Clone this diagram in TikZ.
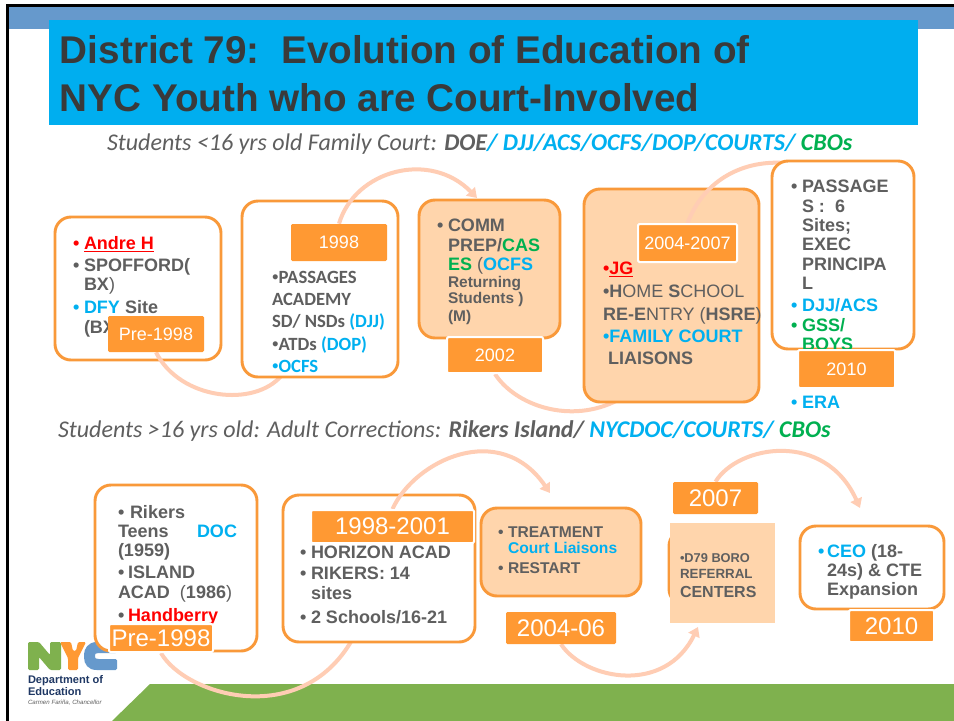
\documentclass[tikz,border=0pt]{standalone}
\usepackage{fontspec}
\setmainfont{Liberation Sans}
\newfontfamily\cali{Carlito}
\newfontfamily\ari{Liberation Sans}
\usetikzlibrary{arrows.meta,calc,shapes.misc}
\definecolor{org}{HTML}{FF9933}
\definecolor{orgline}{HTML}{F9993A}
\definecolor{pale}{HTML}{FFD5AC}
\definecolor{arcc}{HTML}{FFCDB4}
\definecolor{gry}{HTML}{5F5F5F}
\definecolor{titlec}{HTML}{3A3A3A}
\definecolor{blu}{HTML}{00B0F0}
\definecolor{grn}{HTML}{00B050}
\definecolor{redd}{HTML}{FF0000}
\definecolor{cyanbar}{HTML}{00AEEF}
\definecolor{topbar}{HTML}{6699CC}
\definecolor{foot}{HTML}{7FB14E}
\definecolor{navy}{HTML}{1F3864}
\pgfdeclarelayer{base}
\pgfdeclarelayer{top}
\pgfsetlayers{base,main,top}
\newcount\tlc
% text line: {x}{y}{text}
\newcommand{\tl}[3]{\global\advance\tlc by 1 \node[tline] (t\the\tlc) at (#1,#2) {#3};}
% bullet line: {x}{y}{indent px}{colour}{text}
\newcommand{\bl}[5]{\global\advance\tlc by 1 \node[tline] (t\the\tlc) at (#1,#2) {\makebox[\dimexpr #3pt*3/4\relax][l]{\textcolor{#4}{•}}#5};}
% box: {style}{name}{x1}{y1}{x2}{y2}{text}
\newcommand{\bx}[7]{%
 \pgfmathsetmacro{\bw}{(#5-#3)*0.75}\pgfmathsetmacro{\bh}{(#6-#4)*0.75}%
 \node[#1,minimum width=\bw pt,minimum height=\bh pt] (#2) at ({(#3+#5)/2},{(#4+#6)/2}) {#7};}
\newcommand{\ul}[1]{\underline{#1}}
\newcommand{\smbul}{{\ari\mdseries •}}
\tikzset{
 x=0.75pt,y=-0.75pt,
 tline/.style={anchor=base west,inner sep=0pt,outer sep=0pt,text=gry,font=\fontsize{13.5pt}{16pt}\selectfont\bfseries},
 card/.style={draw=orgline,line width=2.2pt,fill=white,rounded corners=12pt,inner sep=0pt},
 cardp/.style={card,fill=pale},
 tag/.style={fill=org,text=white,inner sep=0pt,rounded corners=1pt,font=\fontsize{13.5pt}{16pt}\selectfont},
 tagw/.style={tag,draw=white,line width=1.5pt},
 taglg/.style={tag,font=\fontsize{18pt}{20pt}\selectfont},
 taglgw/.style={tagw,font=\fontsize{18pt}{20pt}\selectfont},
 flow/.style={draw=arcc,line width=3pt},
 flowa/.style={flow,-{Triangle[length=7pt,width=9pt]}},
}
\begin{document}
\begin{tikzpicture}
\useasboundingbox (0,0) rectangle (954,721);
\begin{pgfonlayer}{base}
\fill[white] (0,0) rectangle (954,721);
\fill[topbar] (8,6) rectangle (954,29);
\fill[black] (6,4) rectangle (954,7);
\fill[black] (6,4) rectangle (9,721);
\fill[foot] (150,684) -- (954,684) -- (954,721) -- (112,721) -- cycle;
% logo
\fill[foot,rounded corners=1pt] (28,642) -- (39,642) -- (50,655) -- (50,642) -- (61,642) -- (61,670) -- (50,670) -- (39,657) -- (39,670) -- (28,670) -- cycle;
\fill[org,rounded corners=1pt] (60,642) -- (71,642) -- (73,651) -- (76,651) -- (78,642) -- (86,642) -- (78,658) -- (78,670) -- (68,670) -- (68,658) -- cycle;
\fill[topbar,rounded corners=1pt] (117,642) -- (98,642) .. controls (88,642) and (84,649) .. (84,656) .. controls (84,664) and (88,670) .. (98,670) -- (117,670) -- (117,659) -- (100,659) .. controls (96,659) and (95,658) .. (95,656) .. controls (95,654) and (96,653) .. (100,653) -- (117,653) -- cycle;
\node[tline,text=navy,font=\fontsize{8.3pt}{9pt}\selectfont\bfseries] (lg1) at (28,683) {Department of};
\node[tline,text=navy,font=\fontsize{8.3pt}{9pt}\selectfont\bfseries] (lg2) at (28,695) {Education};
\node[tline,text=gry,font=\fontsize{4.6pt}{5pt}\selectfont\itshape\mdseries] (lg3) at (28,704) {Carmen Fariña, Chancellor};
\end{pgfonlayer}
% title
\node[fill=cyanbar,minimum width=651.75pt,minimum height=78.75pt,inner sep=0pt] (titlebar) at (483.5,72.5) {};
\node[tline,text=titlec,font=\fontsize{29pt}{34pt}\selectfont\bfseries] (title1) at (60,63) {District 79:\ \ Evolution of Education of};
\node[tline,text=titlec,font=\fontsize{29pt}{34pt}\selectfont\bfseries] (title2) at (60,111) {NYC Youth who are Court-Involved};
\node[tline,font=\cali\fontsize{18pt}{20pt}\selectfont\itshape\mdseries] (sub1) at (107,150) {Students <16 yrs old Family Court: \textbf{DOE}\textcolor{blu}{\textbf{/ DJJ/ACS/OCFS/DOP/COURTS/ }}\textcolor{grn}{\textbf{CBOs}}};
\node[tline,font=\cali\fontsize{18pt}{20pt}\selectfont\itshape\mdseries] (sub2) at (58,437) {Students >16 yrs old: Adult Corrections: \textbf{Rikers Island/ }\textcolor{blu}{\textbf{NYCDOC/COURTS/ }}\textcolor{grn}{\textbf{CBOs}}};

\begin{pgfonlayer}{top}
% upper row text
\bl{73}{249}{11}{redd}{\textcolor{redd}{\ul{Andre H}}}
\bl{73}{271}{11}{gry}{SPOFFORD(}
\tl{84}{290}{BX\mdseries)}
\bl{73}{313}{11}{blu}{\textcolor{blu}{DFY} Site}
\tl{84}{333}{(BX)}
\begin{scope}[tline/.append style={font=\cali\fontsize{14pt}{16pt}\selectfont\bfseries}]
\tl{272}{283}{\smbul PASSAGES}
\tl{272}{305}{ACADEMY}
\tl{272}{327}{SD/ NSDs \textcolor{blu}{(DJJ)}}
\tl{272}{350}{\smbul ATDs \textcolor{blu}{(DOP)}}
\tl{272}{372}{\textcolor{blu}{\smbul OCFS}}
\end{scope}
\bl{437}{231}{11}{gry}{COMM}
\tl{448}{251}{PREP/\textcolor{grn}{CAS}}
\tl{448}{270}{\textcolor{grn}{ES} \mdseries(\textcolor{blu}{\bfseries OCFS}}
\begin{scope}[tline/.append style={font=\fontsize{11.6pt}{14pt}\selectfont\bfseries}]
\tl{448}{287}{Returning}
\tl{448}{303}{Students )}
\tl{448}{321}{(M)}
\end{scope}
\tl{603}{274}{\textcolor{redd}{•\ul{JG}}}
\tl{603}{297}{•H\mdseries OME \bfseries S\mdseries CHOOL}
\tl{603}{320}{RE-E\mdseries NTRY (\bfseries HSRE\mdseries )}
\tl{603}{342}{\textcolor{blu}{•FAMILY COURT}}
\tl{608}{364}{LIAISONS}
\bl{791}{192}{11}{gry}{PASSAGE}
\tl{802}{212}{S :\ \ 6}
\tl{802}{231}{Sites;}
\tl{802}{250}{EXEC}
\tl{802}{270}{PRINCIPA}
\tl{802}{289}{L}
\bl{791}{311}{11}{blu}{\textcolor{blu}{DJJ/ACS}}
\bl{791}{331}{11}{grn}{\textcolor{grn}{GSS/}}
\tl{802}{350}{\textcolor{grn}{BOYS}}
\bl{791}{408}{11}{blu}{\textcolor{blu}{ERA}}
% upper row tags
\bx{tag}{la}{108}{316}{204}{352}{Pre-1998}
\bx{tag}{lb}{291}{224}{387}{261}{1998}
\bx{tagw}{lc}{447}{337}{543}{373}{2002}
\bx{tagw}{ld}{638}{224}{737}{262}{2004-2007}
\bx{tagw}{le}{798}{350}{895}{388}{2010}
% lower row text
\bl{118}{518}{12}{gry}{Rikers}
\tl{118}{537}{Teens}
\tl{197}{537}{\textcolor{blu}{DOC}}
\tl{118}{556}{(1959)}
\bl{118}{578}{10}{gry}{ISLAND}
\tl{118}{598}{ACAD\ \ \mdseries(\bfseries 1986\mdseries)}
\bl{118}{621}{10}{gry}{\textcolor{redd}{Handberry}}
\bl{300}{558}{11}{gry}{HORIZON ACAD}
\bl{300}{579}{11}{gry}{RIKERS: 14}
\tl{311}{599}{sites}
\bl{300}{623}{11}{gry}{2 Schools/16-21}
\begin{scope}[tline/.append style={font=\fontsize{11.7pt}{14pt}\selectfont\bfseries}]
\bl{498}{537}{10}{gry}{TREATMENT}
\tl{508}{553}{\textcolor{blu}{Court Liaisons}}
\bl{498}{573}{10}{gry}{RESTART}
\end{scope}
\tl{680}{562}{\fontsize{9.6pt}{12pt}\selectfont•D79 BORO}
\tl{680}{578}{\fontsize{10pt}{12pt}\selectfont REFERRAL}
\tl{680}{597}{\fontsize{12pt}{14pt}\selectfont CENTERS}
\bl{818}{557}{9}{blu}{\textcolor{blu}{CEO} (18-}
\tl{827}{576}{24s) \& CTE}
\tl{827}{595}{Expansion}
% lower row tags
\bx{taglgw}{na}{109}{624}{213}{652}{Pre-1998}
\bx{taglgw}{nb}{311}{510}{474}{543}{1998-2001}
\bx{taglg}{nc}{506}{612}{616}{644}{2004-06}
\bx{taglg}{nd}{673}{482}{758}{514}{2007}
\bx{taglgw}{ne}{849}{610}{934}{642}{2010}
\end{pgfonlayer}

% free ends of the connectors
\coordinate (e1) at (282,375);
\coordinate (e2) at (477,198);
\coordinate (e3) at (618,400);
\coordinate (e4) at (785,163);
\coordinate (e5) at (352,640);
\coordinate (e6) at (550,493);
\coordinate (e7) at (698,627);
\coordinate (e8) at (860,508);
% cards and connectors, each connector above its source card and below the next
\bx{card}{ba}{55}{217}{221}{360}{}
\draw[flow] (la.south) .. controls (180,400) and (255,408) .. (e1);
\bx{card}{bb}{242}{201}{398}{377}{}
\draw[flowa] (lb.north) .. controls (355,170) and (430,150) .. (e2);
\bx{cardp}{bc}{419}{200}{560}{338}{}
\draw[flow] (lc.south) .. controls (515,405) and (570,425) .. (e3);
\bx{cardp}{bd}{584}{189}{759}{402}{}
\draw[flow] (ld.north) .. controls (705,178) and (745,160) .. (e4);
\bx{card}{be}{772}{161}{914}{349}{}
\bx{card}{ma}{95}{485}{257}{651}{}
\draw[flow] (na.south) .. controls (185,695) and (300,730) .. (e5);
\bx{card}{mb}{283}{495}{475}{642}{}
\draw[flowa] (nb.north) .. controls (415,460) and (500,420) .. (e6);
\bx{cardp}{mc}{481}{508}{641}{596}{}
\draw[flowa] (nc.south) .. controls (585,680) and (665,695) .. (e7);
\bx{card}{md}{669}{530}{700}{605}{}
\node[fill=pale,minimum width=78.75pt,minimum height=75pt,inner sep=0pt] (mdp) at (722.5,573) {};
\draw[flowa] (nd.north) .. controls (738,445) and (825,430) .. (e8);
\bx{card}{me}{800}{526}{944}{609}{}
\end{tikzpicture}
\end{document}
